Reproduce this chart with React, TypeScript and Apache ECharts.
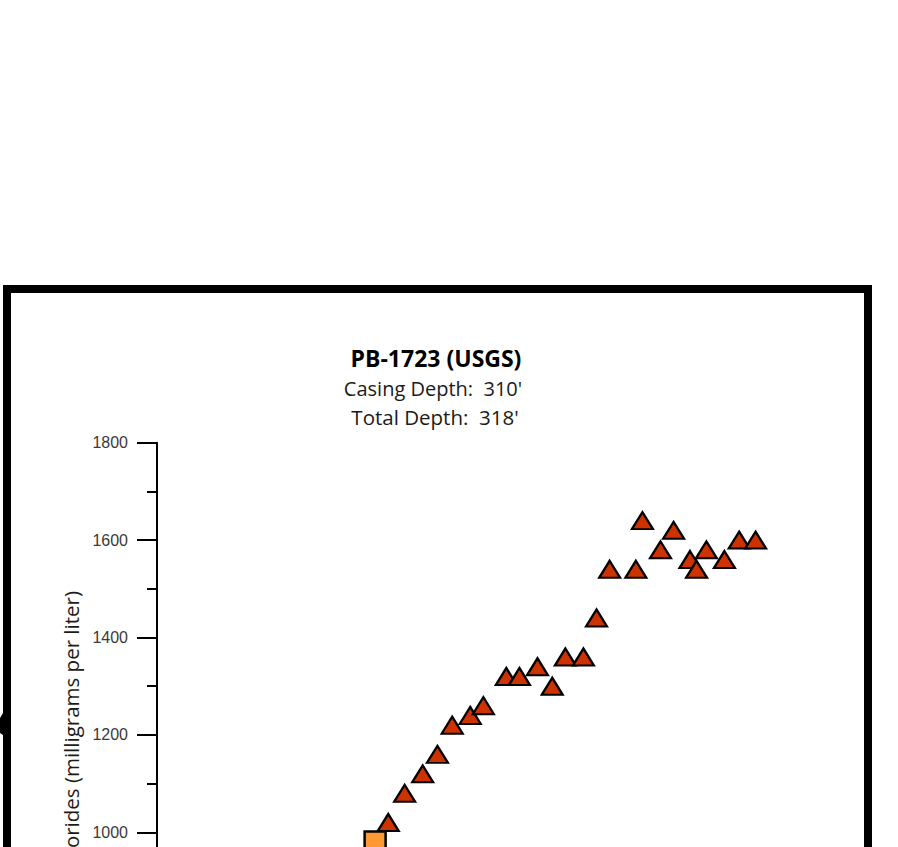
import React, { useEffect, useRef } from "react";
import * as echarts from "echarts";

// Data (decimal year, chlorides mg/L)
const squareYears = [1993.3];
const squareValues = [980];

const triangleYears = [
  1994.1, 1995.1, 1996.2, 1997.1, 1998.0, 1999.1, 1999.9, 2001.3, 2002.1, 2003.2,
  2004.1, 2004.9, 2006.0, 2006.8, 2007.6, 2009.2, 2009.6, 2010.7, 2011.5, 2012.5,
  2012.9, 2013.5, 2014.6, 2015.5, 2016.5,
];
const triangleValues = [
  1020, 1080, 1120, 1160, 1220, 1240, 1260, 1320, 1320, 1340,
  1300, 1360, 1360, 1440, 1540, 1540, 1640, 1580, 1620, 1560,
  1540, 1580, 1560, 1600, 1600,
];

const yTicks = [600, 800, 1000, 1200, 1400, 1600, 1800];
const xRange = [1980, 2020];

const titleText = "PB-1723 (USGS)";
const subtitleLines = ["Casing Depth:  310'", "Total Depth:  318'"];
const yAxisName = "Chlorides (milligrams per liter)";

export default function App() {
  const ref = useRef<HTMLDivElement>(null);
  useEffect(() => {
    if (!ref.current) return;
    const chart = echarts.init(ref.current, undefined, { renderer: "svg" });
    const pair = (xs: number[], ys: number[]) => xs.map((x, i) => [x, ys[i]]);
    chart.setOption({
      animation: false,
      backgroundColor: "#ffffff",
      grid: { left: 157, width: 656, top: 442.7, height: 584.4 },
      xAxis: {
        type: "value",
        min: xRange[0],
        max: xRange[1],
        interval: 5,
        axisLine: { lineStyle: { color: "#000", width: 2 } },
        axisTick: { length: 20, lineStyle: { color: "#000", width: 2 } },
        axisLabel: { color: "#333", fontFamily: "Liberation Sans", fontSize: 16, formatter: (v: number) => String(v) },
        splitLine: { show: false },
      },
      yAxis: {
        type: "value",
        min: yTicks[0],
        max: yTicks[yTicks.length - 1],
        interval: 200,
        name: yAxisName,
        nameLocation: "middle",
        nameRotate: 90,
        nameGap: 72,
        nameTextStyle: { fontFamily: "Open Sans", fontSize: 20.5, color: "#1a1a1a" },
        axisLine: { show: true, lineStyle: { color: "#000", width: 2 } },
        axisTick: { show: true, length: 20, lineStyle: { color: "#000", width: 2 } },
        minorTick: { show: true, splitNumber: 2, length: 10, lineStyle: { color: "#000", width: 2 } },
        axisLabel: {
          color: "#3a3a3a",
          fontFamily: "Liberation Sans",
          fontSize: 16,
          margin: 29,
          formatter: (v: number) => String(v),
        },
        splitLine: { show: false },
      },
      graphic: [
        {
          type: "rect",
          shape: { x: 7, y: 289, width: 861, height: 1000 },
          style: { fill: "none", stroke: "#000", lineWidth: 8 },
          z: 1,
        },
        {
          type: "polygon",
          shape: { points: [[0, 718], [3, 713], [3, 735], [0, 733]] },
          style: { fill: "#000" },
        },
        {
          type: "text",
          x: 436,
          y: 358,
          style: {
            text: titleText,
            fontFamily: "Open Sans",
            fontWeight: "bold",
            fontSize: 23,
            fill: "#000",
            align: "center",
            verticalAlign: "middle",
          },
        },
        {
          type: "text",
          x: 433,
          y: 388,
          style: {
            text: subtitleLines[0],
            fontFamily: "Open Sans",
            fontSize: 20,
            fill: "#1a1a1a",
            align: "center",
            verticalAlign: "middle",
          },
        },
        {
          type: "text",
          x: 435,
          y: 417,
          style: {
            text: subtitleLines[1],
            fontFamily: "Open Sans",
            fontSize: 20.5,
            fill: "#1a1a1a",
            align: "center",
            verticalAlign: "middle",
          },
        },
      ],
      series: [
        {
          type: "scatter",
          name: "Square",
          data: pair(squareYears, squareValues),
          symbol: "rect",
          symbolSize: 21,
          itemStyle: { color: "#FF9933", borderColor: "#000", borderWidth: 2.5, opacity: 1 },
          z: 2,
        },
        {
          type: "scatter",
          name: "Triangles",
          data: pair(triangleYears, triangleValues),
          symbol: "triangle",
          symbolSize: [21, 17],
          itemStyle: { color: "#CC3300", borderColor: "#000", borderWidth: 2.2, opacity: 1 },
          z: 3,
        },
      ],
    });
    return () => chart.dispose();
  }, []);
  return (
    <div style={{ position: "absolute", left: 0, top: 0, width: 898, height: 847, overflow: "hidden", background: "#fff" }}>
      <div ref={ref} style={{ width: 898, height: 1150 }} />
    </div>
  );
}
